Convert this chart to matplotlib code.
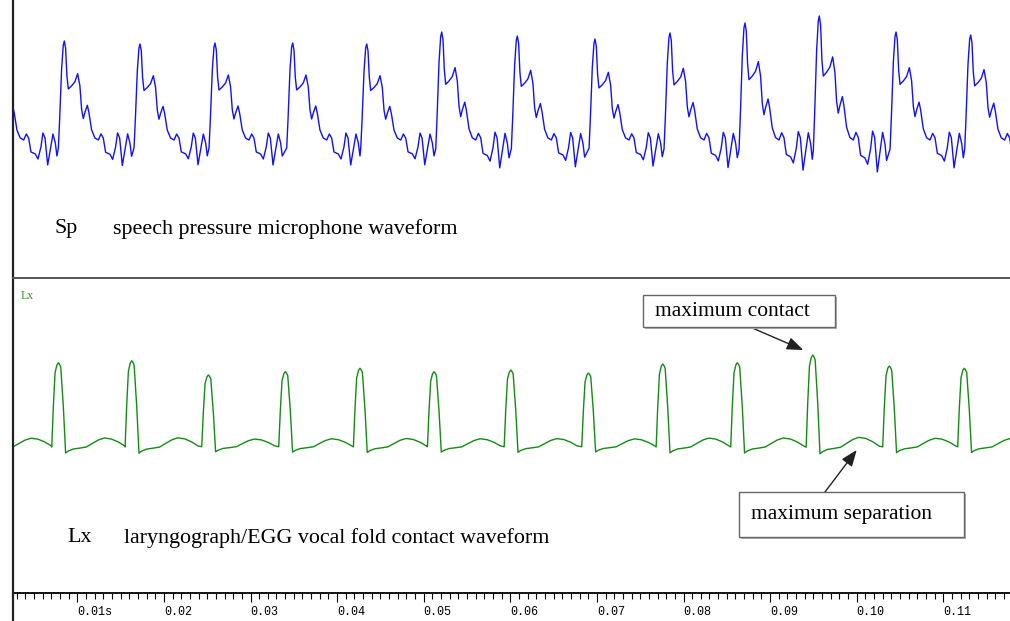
import numpy as np
import matplotlib.pyplot as plt
from matplotlib.lines import Line2D
from matplotlib.patches import Rectangle
from matplotlib.ticker import MultipleLocator, FixedLocator

W, H = 1010, 621

# speech pressure: one cycle (ms from peak, amplitude)
SP_TEMPLATE_MS = [-0.69, -0.54, -0.31, -0.12, 0.0, 0.15, 0.30, 0.46, 0.84, 1.22, 1.54,
                  1.80, 2.00, 2.19, 2.38, 2.66, 2.84, 3.15, 3.53, 3.93, 4.23, 4.50,
                  4.77, 5.27, 5.58, 5.92, 6.15, 6.39, 6.70, 7.00, 7.31, 7.58, 7.77]
SP_TEMPLATE_AMP = [-0.08, 0.20, 0.70, 0.93, 0.97, 0.90, 0.63, 0.50, 0.53, 0.57, 0.65,
                   0.53, 0.30, 0.21, 0.27, 0.34, 0.27, 0.10, 0.02, 0.00, 0.06, 0.02,
                   -0.12, -0.14, -0.19, -0.07, 0.07, 0.02, -0.25, -0.10, 0.06, -0.03, -0.16]
SP_PEAK_MS = [-0.12, 8.50, 17.24, 25.90, 34.87, 43.42, 52.08, 60.81, 69.78, 78.44,
              87.10, 95.68, 104.54, 113.16]
SP_PEAK_AMP = [0.97, 0.99, 0.96, 0.97, 0.97, 0.96, 1.08, 1.04, 1.01, 1.07,
               1.17, 1.24, 1.08, 1.05]

# laryngograph: one cycle
LX_TEMPLATE_MS = [-0.76, -0.58, -0.38, -0.17, 0.0, 0.12, 0.28, 0.58, 0.84, 1.15,
                  1.73, 2.54, 3.23, 3.81, 4.62, 5.31, 6.12, 6.93, 7.67]
LX_TEMPLATE_AMP = [-0.02, 0.38, 0.72, 0.80, 0.823, 0.81, 0.78, 0.38, -0.08, -0.06,
                   -0.04, -0.03, -0.02, 0.01, 0.05, 0.07, 0.06, 0.03, -0.01]
LX_PEAK_MS = [-0.66, 7.81, 16.28, 25.13, 34.02, 42.64, 51.19, 60.05, 69.01, 77.60,
              86.21, 94.92, 103.76, 112.42]
LX_PEAK_AMP = [0.80, 0.823, 0.843, 0.70, 0.733, 0.767, 0.733, 0.75, 0.72, 0.81,
               0.823, 0.90, 0.79, 0.767]

TICK_POS = [0.01, 0.02, 0.03, 0.04, 0.05, 0.06, 0.07, 0.08, 0.09, 0.10, 0.11]
TICK_LABELS = ["0.01s", "0.02", "0.03", "0.04", "0.05", "0.06", "0.07", "0.08",
               "0.09", "0.10", "0.11"]


def build_wave(tmpl_ms, tmpl_amp, peaks_ms, peaks_amp):
    tmpl_ms = np.array(tmpl_ms)
    tmpl_amp = np.array(tmpl_amp)
    ref = tmpl_amp.max()
    t, v = [], []
    for pk, amp in zip(peaks_ms, peaks_amp):
        t.append((pk + tmpl_ms) / 1000.0)
        v.append(tmpl_amp * amp / ref)
    return np.concatenate(t), np.concatenate(v)


def fx(px):
    return px / W


def fy(py):
    return 1 - py / H


fig = plt.figure(figsize=(W / 100, H / 100), dpi=100)
fig.patch.set_facecolor("white")

xlim = (0.002575, 0.1177)

ax_sp = fig.add_axes([fx(13), fy(278), fx(1010) - fx(13), 278 / H])
ax_lx = fig.add_axes([fx(13), fy(593), fx(1010) - fx(13), (593 - 278) / H])

t_sp, v_sp = build_wave(SP_TEMPLATE_MS, SP_TEMPLATE_AMP, SP_PEAK_MS, SP_PEAK_AMP)
ax_sp.plot(t_sp, v_sp, color="#1010ff", lw=1.0)
ax_sp.set_xlim(xlim)
ax_sp.set_ylim(-1.38, 1.40)
ax_sp.axis("off")

t_lx, v_lx = build_wave(LX_TEMPLATE_MS, LX_TEMPLATE_AMP, LX_PEAK_MS, LX_PEAK_AMP)
ax_lx.plot(t_lx, v_lx, color="#138c13", lw=1.0)
ax_lx.set_xlim(xlim)
ax_lx.set_ylim(-1.48, 1.67)
for s in ["left", "right", "top"]:
    ax_lx.spines[s].set_visible(False)
ax_lx.spines["bottom"].set_linewidth(1.3)
ax_lx.set_yticks([])
ax_lx.xaxis.set_major_locator(FixedLocator(TICK_POS))
ax_lx.xaxis.set_minor_locator(MultipleLocator(0.001))
ax_lx.set_xticklabels(TICK_LABELS, family="Liberation Mono", fontsize=8.5)
for lab in ax_lx.get_xticklabels():
    lab.set_ha("left")
ax_lx.tick_params(axis="x", which="major", direction="out", length=6.5, width=0.8, pad=3)
ax_lx.tick_params(axis="x", which="minor", direction="out", length=4, width=0.8)

# frame lines
fig.add_artist(Line2D([fx(13), fx(13)], [0, 1], color="#222222", lw=1.6))
fig.add_artist(Line2D([fx(13), 1], [fy(278), fy(278)], color="#555555", lw=1.4))

# labels
serif = "Liberation Serif"
fig.text(fx(55), fy(229), "Sp", family=serif, fontsize=15.8, va="center")
fig.text(fx(113), fy(229), "speech pressure microphone waveform", family=serif,
         fontsize=15.8, va="center")
fig.text(fx(67), fy(538), "Lx", family=serif, fontsize=15.8, va="center")
fig.text(fx(124), fy(538), "laryngograph/EGG vocal fold contact waveform", family=serif,
         fontsize=15.8, va="center")
fig.text(fx(21), fy(296), "Lx", family=serif, fontsize=8.5, va="center", color="#2a962a")

# annotation boxes
def note_box(x0, y0, x1, y1, label, tip, start):
    fig.add_artist(Rectangle((fx(x0) + 1.5 / W, fy(y1) - 1.5 / H), fx(x1) - fx(x0), (y1 - y0) / H,
                             transform=fig.transFigure, facecolor="#b0b0b0", edgecolor="none"))
    fig.add_artist(Rectangle((fx(x0), fy(y1)), fx(x1) - fx(x0), (y1 - y0) / H,
                             transform=fig.transFigure, facecolor="white",
                             edgecolor="#666666", lw=1.0))
    fig.text(fx(x0 + 12), fy((y0 + y1) / 2), label, family=serif, fontsize=15.5, va="center")
    ax_lx.annotate("", xy=tip, xycoords="data", xytext=(fx(start[0]), fy(start[1])),
                   textcoords="figure fraction",
                   arrowprops=dict(arrowstyle="-|>,head_length=0.9,head_width=0.35",
                                   color="#222222", lw=1.0, mutation_scale=11,
                                   shrinkA=0, shrinkB=0))


note_box(643, 295, 835, 327, "maximum contact", (0.09383, 0.95), (750, 327))
note_box(739, 492, 964, 537, "maximum separation", (0.1000, -0.05), (825, 492))

fig.savefig("out.png", dpi=100)
